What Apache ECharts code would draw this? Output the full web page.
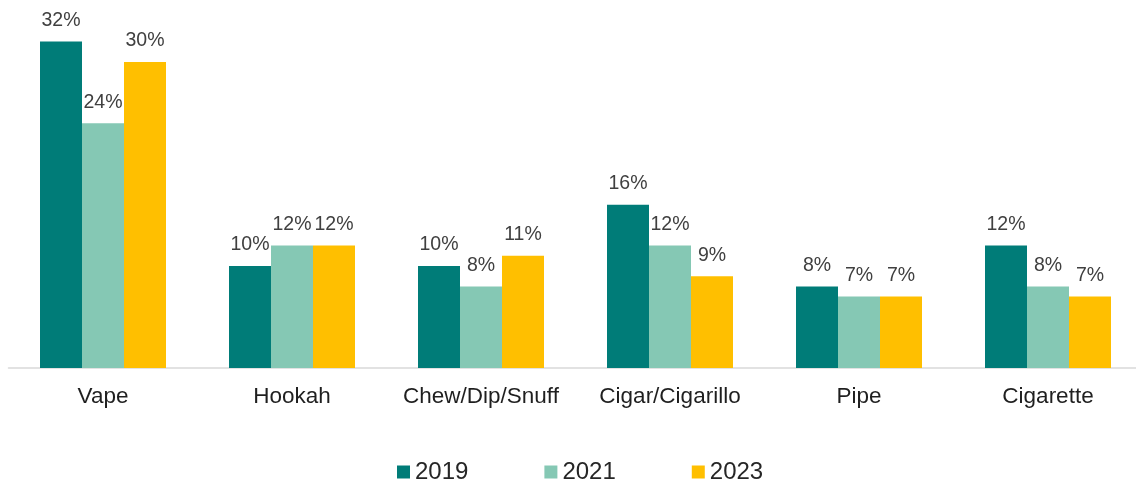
<!DOCTYPE html>
<html>
<head>
<meta charset="utf-8">
<script src="https://cdn.jsdelivr.net/npm/echarts@6/dist/echarts.min.js"></script>
<style>
  html, body { margin: 0; padding: 0; background: #ffffff; overflow: hidden; }
  #chart { width: 1143px; height: 479px; }
</style>
</head>
<body>
<div id="chart"></div>
<script>
// Tobacco product use by survey year (percent)
const categories = ['Vape', 'Hookah', 'Chew/Dip/Snuff', 'Cigar/Cigarillo', 'Pipe', 'Cigarette'];
const years = ['2019', '2021', '2023'];
const values2019 = [32, 10, 10, 16, 8, 12];
const values2021 = [24, 12, 8, 12, 7, 8];
const values2023 = [30, 12, 11, 9, 7, 7];

const colors = ['#007C78', '#85C8B4', '#FFBF00'];
const FONT = '"Liberation Sans", Arial, sans-serif';

const seriesValues = [values2019, values2021, values2023];

const chart = echarts.init(document.getElementById('chart'), null, { renderer: 'canvas' });

chart.setOption({
  animation: false,
  color: colors,
  grid: { left: 8.5, width: 1134, top: 11, bottom: 111, containLabel: false },
  legend: {
    data: years,
    left: 392,
    top: 455,
    itemWidth: 13,
    itemHeight: 13,
    itemGap: 76,
    icon: 'rect',
    textStyle: { fontFamily: FONT, fontSize: 24, color: '#262626' }
  },
  xAxis: {
    type: 'category',
    data: categories,
    axisLine: { show: true, lineStyle: { color: '#d9d9d9', width: 1.5 } },
    axisTick: { show: false },
    axisLabel: { interval: 0, fontFamily: FONT, fontSize: 22.5, color: '#1f1f1f', margin: 17 }
  },
  yAxis: {
    type: 'value',
    min: 0,
    max: 35,
    show: false,
    splitLine: { show: false }
  },
  series: seriesValues.map((vals, i) => ({
    name: years[i],
    type: 'bar',
    data: vals,
    barWidth: 42,
    barGap: '0%',
    label: {
      show: true,
      position: 'top',
      distance: 11,
      formatter: '{c}%',
      fontFamily: FONT,
      fontSize: 19.5,
      color: '#404040'
    }
  }))
});
</script>
</body>
</html>
